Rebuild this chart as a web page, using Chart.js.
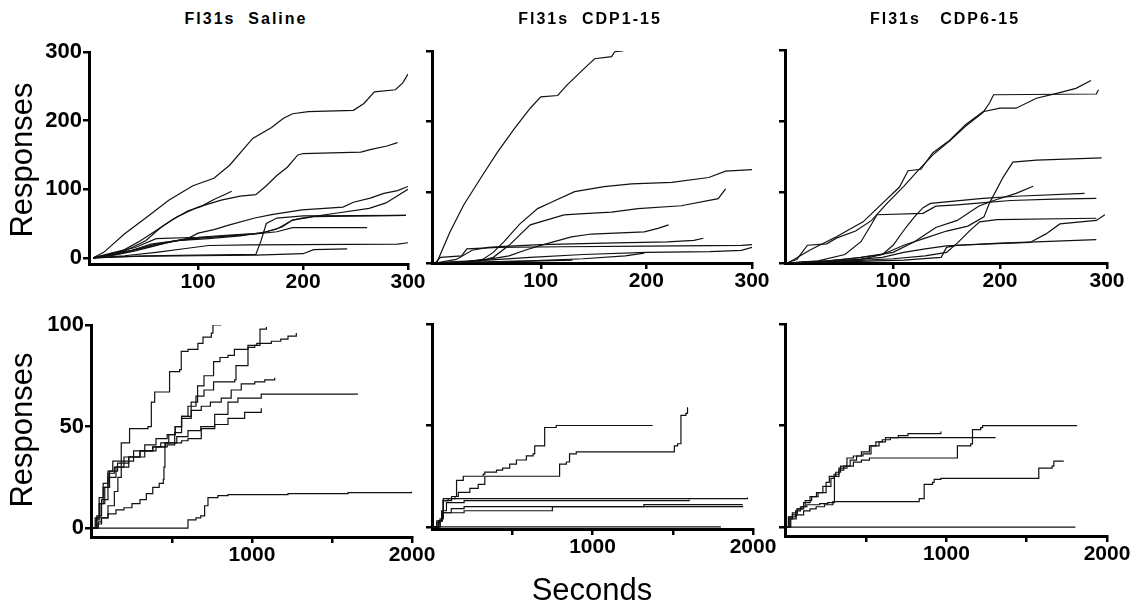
<!DOCTYPE html>
<html lang="en">
<head>
  <meta charset="UTF-8">
  <title>Fl31s cumulative responses</title>
  <style>
    body {
      margin: 0;
      width: 1147px;
      height: 606px;
      position: relative;
      overflow: hidden;
      background: #fff;
      font-family: "Liberation Sans", Arial, sans-serif;
      color: #000;
    }
    canvas { position: absolute; }
    .title {
      position: absolute;
      top: 10px;
      font-size: 16px;
      line-height: 18px;
      font-weight: bold;
      letter-spacing: 2px;
      white-space: pre;
      transform: translateX(-50%);
    }
    .ylab {
      position: absolute;
      font-size: 31px;
      line-height: 31px;
      white-space: nowrap;
      transform: translate(-50%, -50%) rotate(-90deg);
    }
    .xlab {
      position: absolute;
      font-size: 31px;
      line-height: 31px;
      white-space: nowrap;
      transform: translateX(-50%);
    }
  </style>
</head>
<body>
  <canvas id="p1"></canvas>
  <canvas id="p2"></canvas>
  <canvas id="p3"></canvas>
  <canvas id="p4"></canvas>
  <canvas id="p5"></canvas>
  <canvas id="p6"></canvas>

  <div class="title" style="left:246px">Fl31s  Saline</div>
  <div class="title" style="left:590px">Fl31s  CDP1-15</div>
  <div class="title" style="left:945px">Fl31s   CDP6-15</div>
  <div class="ylab" style="left:21px; top:160px">Responses</div>
  <div class="ylab" style="left:21px; top:430px">Responses</div>
  <div class="xlab" style="left:592px; top:574px">Seconds</div>

  <script src="https://cdn.jsdelivr.net/npm/chart.js"></script>
  <script>
    // ---- data: [seconds, cumulative responses] ----
    // Fl31s Saline, first 300 s
    const salA = [[0,0],[10,8],[30,35],[50,58],[72,84],[95,105],[115,116],[130,135],[152,174],[170,190],[181,203],[190,210],[205,213],[248,215],[258,225],[268,242],[288,245],[295,255],[300,268]];
    const salB = [[0,0],[15,5],[30,10],[50,25],[65,45],[80,60],[100,74],[122,84],[140,90],[155,92],[165,105],[175,120],[185,132],[195,150],[200,152],[255,154],[265,158],[280,163],[290,168]];
    const salC = [[0,0],[15,4],[30,12],[45,25],[60,40],[75,55],[90,68],[103,75],[115,85],[125,92],[132,97]];
    const salD = [[0,0],[20,4],[40,10],[55,16],[70,22],[90,28],[100,36],[115,41],[130,48],[154,58],[170,63],[199,70],[238,74],[248,81],[264,87],[277,94],[290,98],[300,104]];
    const salE = [[0,0],[15,5],[35,10],[55,20],[80,25],[110,28],[140,32],[165,38],[180,45],[190,55],[199,58],[231,65],[263,72],[279,80],[300,100]];
    const salF = [[0,0],[20,5],[40,12],[60,20],[90,28],[130,32],[160,36],[175,42],[190,55],[210,60],[298,62]];
    const salG = [[0,0],[25,6],[50,15],[80,25],[110,30],[150,34],[175,38],[190,44],[261,44]];
    const salH = [[0,0],[30,3],[60,8],[90,14],[110,18],[150,19],[290,20],[300,22]];
    const salI = [[0,0],[40,2],[100,3],[155,4],[200,6],[210,12],[242,13]];
    const salJ = [[0,0],[50,3],[100,4],[155,5],[160,25],[165,50],[175,58],[200,61],[298,62]];
    const salK = [[0,0],[20,8],[40,15],[60,28],[100,30],[130,33],[150,35]];

    // Fl31s CDP1-15, first 300 s
    const cdp1A = [[0,0],[2,2],[14,44],[27,82],[43,120],[59,157],[75,190],[90,219],[100,235],[116,237],[125,252],[141,275],[151,289],[167,292],[170,299],[178,300]];
    const cdp1B = [[0,0],[30,2],[45,5],[55,15],[65,30],[80,55],[97,77],[110,86],[132,101],[160,108],[186,112],[224,114],[259,121],[275,130],[300,132]];
    const cdp1C = [[0,0],[40,2],[55,8],[70,25],[90,54],[122,68],[141,70],[167,72],[192,77],[233,81],[268,91],[275,105]];
    const cdp1D = [[0,0],[30,2],[50,5],[70,10],[85,18],[100,25],[129,37],[148,41],[198,44],[211,49],[221,54]];
    const cdp1E = [[0,0],[20,5],[35,18],[50,22],[70,24],[100,26],[160,28],[220,30],[245,32],[254,35]];
    const cdp1F = [[0,0],[5,8],[25,10],[30,20],[60,22],[120,23],[200,24],[290,25],[300,26]];
    const cdp1G = [[0,0],[20,2],[50,4],[90,8],[140,12],[200,15],[260,16],[290,18],[300,22]];
    const cdp1H = [[0,0],[40,1],[90,3],[140,6],[180,10],[198,14]];
    const cdp1I = [[0,0],[30,1],[60,2],[100,3],[130,4]];

    // Fl31s CDP6-15, first 300 s
    const cdp6A = [[0,0],[3,1],[22,18],[47,37],[72,58],[90,84],[106,107],[114,130],[126,132],[137,155],[153,173],[168,195],[184,213],[200,218],[215,218],[234,232],[253,239],[271,246],[285,257]];
    const cdp6B = [[0,0],[10,5],[20,25],[38,27],[47,35],[65,45],[80,60],[95,85],[110,108],[122,128],[137,152],[153,172],[168,193],[184,212],[190,225],[194,237],[290,238],[292,244]];
    const cdp6C = [[0,0],[30,2],[60,6],[90,12],[110,25],[130,35],[150,45],[170,52],[185,65],[190,84],[203,121],[212,142],[234,145],[295,148]];
    const cdp6D = [[0,0],[40,3],[70,8],[100,15],[120,30],[140,50],[160,60],[180,80],[194,88],[215,98],[231,108]];
    const cdp6E = [[0,0],[40,2],[70,5],[90,12],[100,25],[112,50],[120,65],[128,78],[135,84],[184,91],[215,94],[279,98]];
    const cdp6F = [[0,0],[30,3],[55,12],[70,30],[80,55],[85,68],[128,70],[140,80],[160,82],[185,85],[210,88],[250,90],[290,91]];
    const cdp6G = [[0,0],[60,3],[100,6],[130,10],[150,15],[160,28],[172,46],[181,58],[197,61],[290,63]];
    const cdp6H = [[0,0],[60,2],[110,4],[145,8],[150,22],[160,25],[228,29],[243,41],[256,55],[290,60],[298,68]];
    const cdp6I = [[0,0],[50,3],[90,8],[110,15],[130,20],[150,24],[200,28],[240,30],[290,33]];

    // Fl31s Saline, whole session
    const salLongA = [[0,0],[40,3],[58,5],[100,11],[140,18],[162,25],[183,42],[235,49],[350,50],[371,62],[392,67],[475,67],[485,77],[548,78],[558,87],[600,88],[662,91],[694,94],[746,96],[756,100],[808,100]];
    const salLongB = [[0,0],[30,5],[50,12],[80,20],[110,28],[160,32],[230,35],[300,38],[380,40],[430,42],[480,46],[520,50],[560,55],[600,60],[650,65],[700,68],[760,72],[892,73],[900,80],[975,89],[1017,90],[1050,98],[1090,99]];
    const salLongC = [[0,0],[30,2],[60,5],[100,7],[150,9],[200,10],[250,12],[300,14],[340,17],[380,20],[420,22],[446,24],[450,30],[456,42],[517,47],[560,55],[620,62],[660,70],[700,75],[760,82],[800,84],[850,85],[890,88],[975,90],[1030,91],[1121,92],[1180,93],[1225,94.5],[1277,96]];
    const salLongD = [[0,0],[25,4],[45,12],[70,20],[100,28],[130,33],[200,35],[260,38],[330,41],[400,44],[470,46],[520,50],[560,54],[620,58],[683,60],[740,62],[808,64],[870,68],[933,71],[1017,72],[1080,73],[1142,74]];
    const salLongE = [[0,0],[30,6],[60,14],[100,25],[150,30],[230,35],[300,38],[380,40],[460,42],[530,45],[600,48],[680,50],[767,56],[850,62],[912,64],[1058,66],[1662,66]];
    const salLongF = [[0,0],[20,5],[45,15],[70,22],[100,27],[140,30],[200,33],[260,35],[330,38],[400,40],[470,41],[517,42],[560,43],[600,44],[683,49],[767,51],[850,54],[954,57],[1058,59]];
    const salLongG = [[0,0],[590,0],[600,4],[650,5],[680,6],[704,11],[725,15],[787,16],[850,16.5],[1225,17],[1600,17.5],[2000,18]];

    // Fl31s CDP1-15, whole session
    const cdp1LongA = [[0,0],[30,3],[55,3],[60,5],[70,13],[100,14],[143,15],[153,23],[195,25],[319,26],[329,27],[402,28],[440,29],[484,31],[526,33],[588,35],[630,36],[640,40],[691,40],[702,49],[774,50],[1375,50]];
    const cdp1LongB = [[0,0],[30,2],[50,3],[60,8],[70,13],[122,15],[164,17],[195,17],[236,19],[288,21],[329,25],[785,25],[795,31],[837,32],[857,36],[899,37],[1499,37],[1510,40],[1530,41],[1551,55],[1582,56],[1592,59]];
    const cdp1LongC = [[0,0],[40,3],[60,5],[70,14],[1965,14.5]];
    const cdp1LongD = [[0,0],[50,4],[70,8],[90,12],[200,13],[1602,13.5]];
    const cdp1LongE = [[0,0],[40,3],[60,7],[120,9],[200,10],[1300,10],[1320,11],[1935,11]];
    const cdp1LongF = [[0,0],[50,3],[65,7],[200,8],[740,8],[750,10],[1300,10],[1935,10.5]];
    const cdp1LongG = [[0,0],[1800,0]];

    // Fl31s CDP6-15, whole session
    const cdp6LongA = [[0,0],[15,5],[40,7],[70,9],[100,10],[130,11],[210,11.5],[260,12],[302,25],[330,29],[380,30],[420,32],[470,33],[520,34],[1058,34],[1068,40],[1151,41],[1162,48],[1213,49],[1225,50],[1814,50]];
    const cdp6LongB = [[0,0],[30,4],[64,6],[110,8],[150,9],[188,10],[240,11],[292,12.5],[809,12.5],[830,14],[861,21],[913,22],[923,23.5],[965,24],[1555,24],[1575,29],[1658,30],[1669,32.5],[1731,32.5]];
    const cdp6LongC = [[0,0],[20,4],[40,6],[70,9],[110,12],[150,15],[190,17],[230,20],[280,24],[300,26],[330,28],[360,30],[400,33],[440,35],[480,36],[530,40],[560,42],[600,43],[650,44],[700,45],[760,46],[860,46],[965,47]];
    const cdp6LongD = [[0,0],[25,5],[60,8],[90,10],[120,13],[160,15],[200,17],[250,22],[270,25],[310,27],[340,30],[380,34],[420,35],[470,37],[520,40],[580,42],[620,44],[660,44],[1306,44]];
    const cdp6LongE = [[0,0],[1803,0]];

    // ticks
    const shortXTicks = [100, 200, 300];
    const shortYTicks = [0, 100, 200, 300];
    const longXTicks = [500, 1000, 1500, 2000];
    const longXLabels = [1000, 2000];
    const longYTicks = [0, 50, 100];

    // ---- panel builder ----
    const padL = 70, padT = 15, padR = 30, padB = 45;

    function makePanel(id, box, xRange, yRange, xTicks, xLabels, yTicks, yLabels, lines, stepped) {
      const cv = document.getElementById(id);
      cv.width = box.right - box.left + padL + padR;
      cv.height = box.bottom - box.top + padT + padB;
      cv.style.left = (box.left - padL) + 'px';
      cv.style.top = (box.top - padT) + 'px';

      const axisCommon = {
        type: 'linear',
        grid: { display: true, drawOnChartArea: false, drawTicks: true, tickLength: 6, lineWidth: 2.5, color: '#000' },
        border: { display: true, width: 3, color: '#000' }
      };

      new Chart(cv, {
        type: 'line',
        data: {
          datasets: lines.map(pts => ({
            data: pts.map(p => ({ x: p[0], y: p[1] })),
            borderColor: '#111',
            borderWidth: 1.2,
            pointRadius: 0,
            tension: 0,
            stepped: stepped,
            fill: false
          }))
        },
        options: {
          responsive: false,
          animation: false,
          layout: { padding: { left: 0, top: padT, right: padR, bottom: 0 } },
          plugins: { legend: { display: false }, tooltip: { enabled: false } },
          scales: {
            x: Object.assign({}, axisCommon, {
              min: xRange[0], max: xRange[1],
              afterBuildTicks: s => { s.ticks = xTicks.map(v => ({ value: v })); },
              afterFit: s => { s.height = padB; },
              ticks: {
                autoSkip: false, maxRotation: 0, minRotation: 0, padding: 0,
                color: '#000',
                font: { family: '"Liberation Sans", Arial, sans-serif', size: 21, weight: 'bold' },
                callback: v => xLabels.includes(v) ? String(v) : ''
              }
            }),
            y: Object.assign({}, axisCommon, {
              min: yRange[0], max: yRange[1],
              afterBuildTicks: s => { s.ticks = yTicks.map(v => ({ value: v })); },
              afterFit: s => { s.width = padL; },
              ticks: {
                autoSkip: false, padding: 1,
                color: '#000',
                font: { family: '"Liberation Sans", Arial, sans-serif', size: 22, weight: 'bold' },
                callback: v => yLabels.includes(v) ? String(v) : ''
              }
            })
          }
        }
      });
    }

    makePanel('p1', { left: 89, top: 52, right: 408, bottom: 264 }, [-4, 300], [-9, 300],
      shortXTicks, shortXTicks, shortYTicks, shortYTicks,
      [salA, salB, salC, salD, salE, salF, salG, salH, salI, salJ, salK], false);

    makePanel('p2', { left: 432, top: 51, right: 752, bottom: 263 }, [-3, 300], [0, 300],
      shortXTicks, shortXTicks, shortYTicks, [],
      [cdp1A, cdp1B, cdp1C, cdp1D, cdp1E, cdp1F, cdp1G, cdp1H, cdp1I], false);

    makePanel('p3', { left: 785, top: 50, right: 1107, bottom: 263 }, [-1, 300], [0, 300],
      shortXTicks, shortXTicks, shortYTicks, [],
      [cdp6A, cdp6B, cdp6C, cdp6D, cdp6E, cdp6F, cdp6G, cdp6H, cdp6I], false);

    makePanel('p4', { left: 91, top: 325, right: 412, bottom: 537 }, [-6, 2000], [-4.4, 100],
      longXTicks, longXLabels, longYTicks, longYTicks,
      [salLongA, salLongB, salLongC, salLongD, salLongE, salLongF, salLongG], true);

    makePanel('p5', { left: 432, top: 324, right: 753, bottom: 529 }, [0, 2000], [-1, 100],
      longXTicks, longXLabels, longYTicks, [],
      [cdp1LongA, cdp1LongB, cdp1LongC, cdp1LongD, cdp1LongE, cdp1LongF, cdp1LongG], true);

    makePanel('p6', { left: 785, top: 324, right: 1107, bottom: 536 }, [-6, 2000], [-4.4, 100],
      longXTicks, longXLabels, longYTicks, [],
      [cdp6LongA, cdp6LongB, cdp6LongC, cdp6LongD, cdp6LongE], true);
  </script>
</body>
</html>
